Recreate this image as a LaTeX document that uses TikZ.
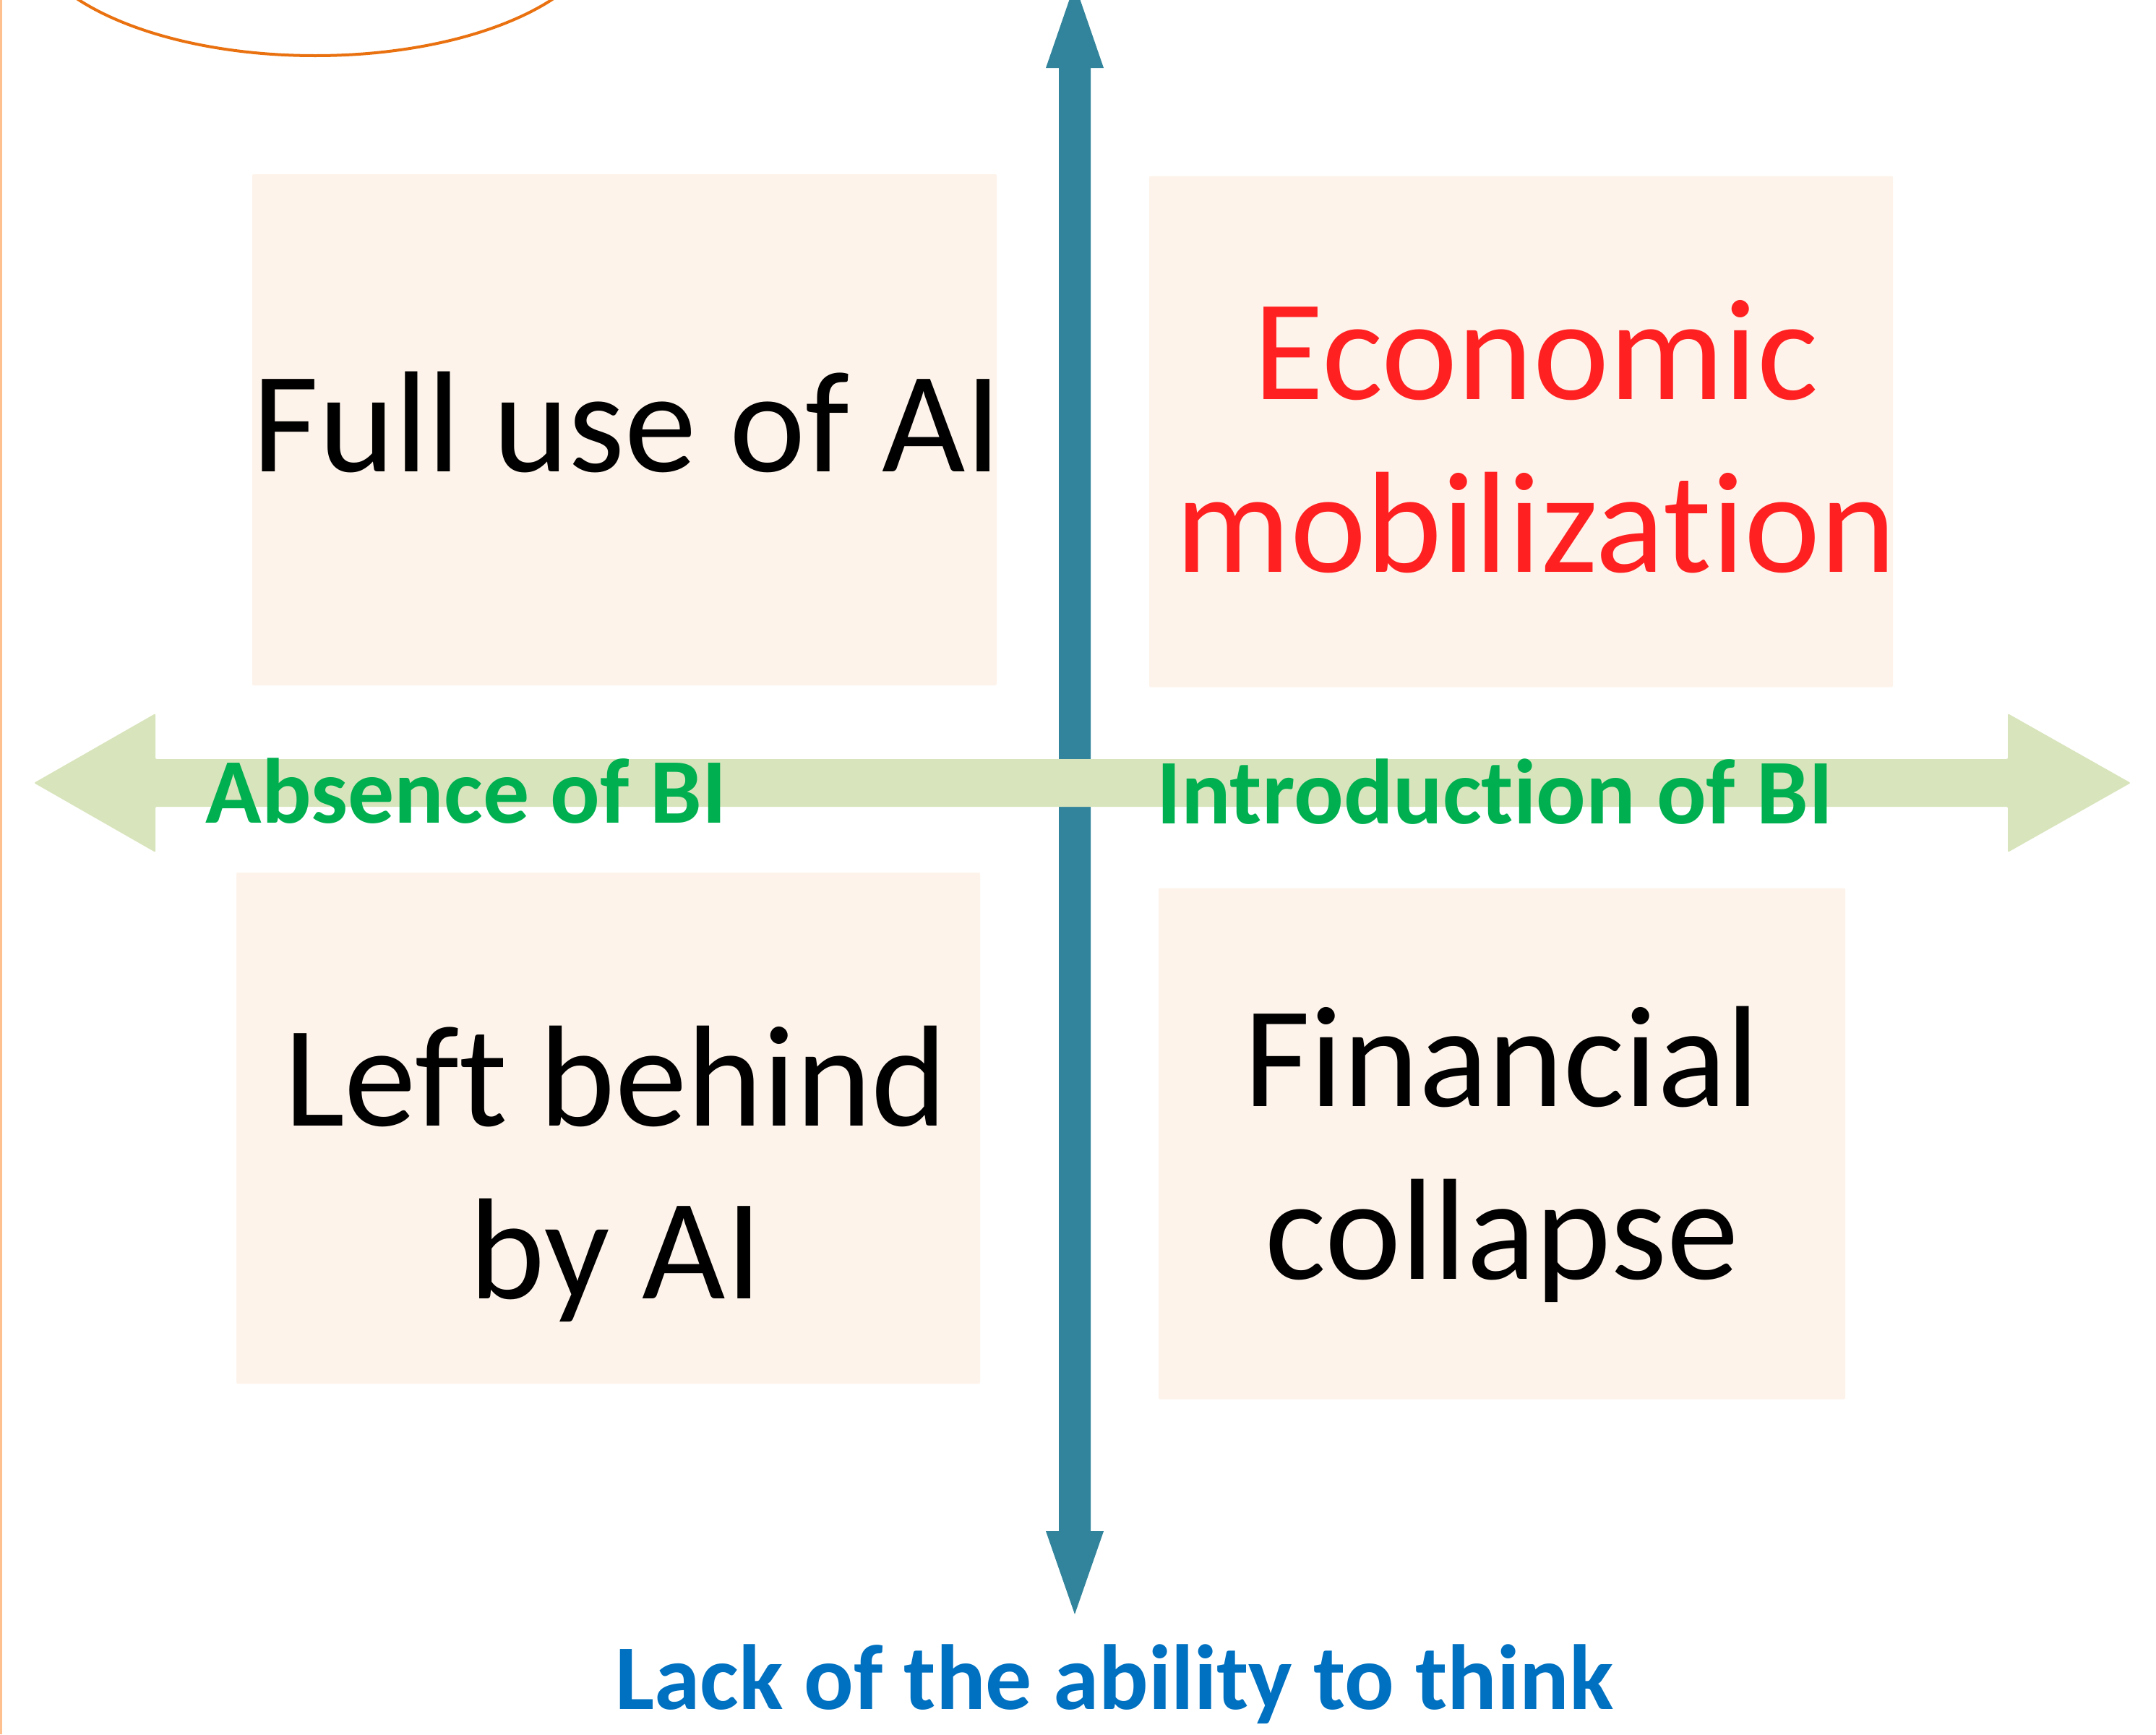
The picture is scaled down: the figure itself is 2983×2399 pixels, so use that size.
\documentclass[tikz,border=0pt]{standalone}
\usepackage{fontspec}
\setmainfont{Carlito}[Ligatures=NoCommon]
\definecolor{colorBox}{RGB}{253,243,234}
\definecolor{colorAxisV}{RGB}{49,132,155}
\definecolor{colorAxisH}{RGB}{216,228,188}
\definecolor{colorRing}{RGB}{233,113,16}
\definecolor{colorEdge}{RGB}{255,192,144}
\definecolor{colorRed}{RGB}{255,33,33}
\definecolor{colorGreen}{RGB}{0,176,80}
\definecolor{colorBlue}{RGB}{0,112,192}
\tikzset{
   quad/.style={fill=colorBox,rounded corners=0.2mm,inner sep=0pt,minimum height=70.7mm},
   big/.style={font=\fontsize{56.7}{68}\selectfont,align=center,anchor=base,inner sep=0pt},
   axis/.style={font=\bfseries\fontsize{36.4}{43}\selectfont,anchor=base,inner sep=0pt},
   vaxis/.style={fill=colorAxisV},
   haxis/.style={fill=colorAxisH,rounded corners=0.2mm},
}

\begin{document}
\begin{tikzpicture}[x=0.1mm,y=-0.1mm]

        \useasboundingbox (0,0) rectangle (2983,2399);

        \begin{scope}
          \clip (0,0) rectangle (2983,2399);
          \draw[colorRing,line width=0.4mm] (436,-105) ellipse [x radius=400,y radius=182];
        \end{scope}
        \fill[colorEdge] (0,0) rectangle (3,2399);

        \node[quad,minimum width=103mm]  (q1) at ( 864,  594.5) {};
        \node[quad,minimum width=102.9mm] (q2) at (2104.5, 597) {};
        \node[quad,minimum width=102.9mm] (q3) at ( 841.5,1560.5) {};
        \node[quad,minimum width=95mm]   (q4) at (2078, 1582) {};

        \fill[vaxis] (1487,-22) -- (1527,94) -- (1509,94) -- (1509,2118) -- (1527,2118)
             -- (1487,2233) -- (1447,2118) -- (1465,2118) -- (1465,94) -- (1447,94) -- cycle;
        \fill[haxis] (47,1083) -- (215,987) -- (215,1050) -- (2778,1050) -- (2778,987)
             -- (2948,1083) -- (2778,1179) -- (2778,1116) -- (215,1116) -- (215,1179) -- cycle;

        % two-line nodes sit on the baseline of their last line
        \node[big] (full) at ( 868, 652) {Full use of AI};
        \node[big,text=colorRed] (econ) at (2125, 791) {Economic\\mobilization};
        \node[big] (left) at ( 852,1796) {Left behind\\by AI};
        \node[big] (fin)  at (2078,1769) {Financial\\collapse};

        \node[axis,text=colorGreen] (absent) at ( 645,1138) {Absence of BI};
        \node[axis,text=colorGreen] (intro)  at (2068,1139) {Introduction of BI};
        \node[axis,text=colorBlue]  (think)  at (1542,2364) {Lack of the ability to think};

      \end{tikzpicture}
\end{document}
